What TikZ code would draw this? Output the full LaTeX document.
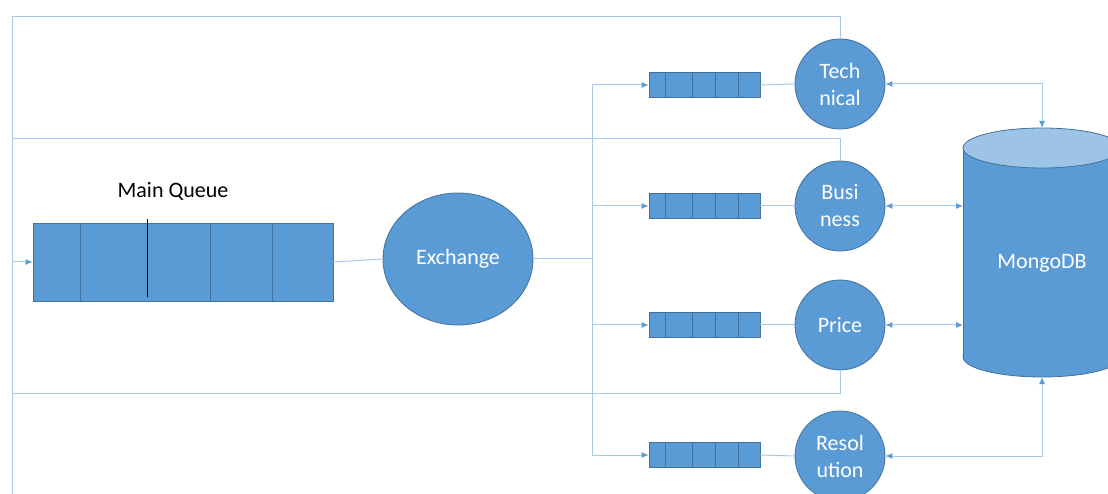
\documentclass[tikz,border=0pt]{standalone}
\usepackage{fontspec}
\setmainfont{Carlito}
\usepackage{tikz}
\usetikzlibrary{arrows.meta}
\usetikzlibrary{shapes.geometric,positioning,calc}
\definecolor{qblue}{HTML}{5B9BD5}
\definecolor{qedge}{HTML}{41719C}
\definecolor{dbcap}{HTML}{9DC3E6}
\definecolor{linkc}{HTML}{A9C9EB}

\begin{document}
\begin{tikzpicture}[x=1pt,y=1pt,
		font=\fontsize{22}{27}\selectfont,
		queue/.style={draw=qedge,fill=qblue,line width=0.8pt,inner sep=0pt},
		worker/.style={circle,draw=qedge,fill=qblue,line width=0.8pt,minimum size=90pt,inner sep=0pt,text=white,align=center},
		link/.style={draw=linkc,line width=1pt},
		tip/.style={-{Latex[length=7pt,width=6pt,color=qblue]}},
		both/.style={{Latex[length=7pt,width=6pt,color=qblue]}-{Latex[length=7pt,width=6pt,color=qblue]}}]
			\useasboundingbox (0,0) rectangle (1108,493);
			\clip (0,0) rectangle (1108,493);
			\node[queue,minimum width=300pt,minimum height=78pt] (mq) at (183,231) {};
			\foreach \d in {48,178,240} \draw[qedge,line width=0.8pt] ([xshift=\d]mq.south west) -- ([xshift=\d]mq.north west);
			\draw[black,line width=0.6pt] ([xshift=115,yshift=4]mq.south west) -- ([xshift=115,yshift=4]mq.north west);
			\node (mqlabel) at (173,302) {Main Queue};
			\node[ellipse,draw=qedge,fill=qblue,line width=0.8pt,minimum width=150pt,minimum height=132pt,text=white] (ex) at (458,234) {Exchange};
			\node[queue,minimum width=111pt,minimum height=25pt] (tq) at (704.5,408) {};
			\node[queue,minimum width=111pt,minimum height=25pt] (bq) at (704.5,287) {};
			\node[queue,minimum width=111pt,minimum height=25pt] (pq) at (704.5,168) {};
			\node[queue,minimum width=111pt,minimum height=25pt] (rq) at (704.5,38) {};
			\foreach \q in {tq,bq,pq,rq}
				\foreach \d in {17,44,67,90}
					\draw[qedge,line width=0.8pt] ([xshift=\d]\q.south west) -- ([xshift=\d]\q.north west);
			\node[worker] (tc) at (840,409) {Tech\\nical};
			\node[worker] (bc) at (840,287) {Busi\\ness};
			\node[worker] (pc) at (840,168) {Price};
			\node[worker] (rc) at (840,37) {Resol\\ution};
			\draw[qedge,fill=qblue,line width=0.8pt] (1042,136) ellipse [x radius=79pt,y radius=20pt];
			\fill[qblue] (963,136) rectangle (1121,345);
			\draw[qedge,line width=0.8pt] (963,136) -- (963,345) (1121,136) -- (1121,345);
			\draw[qedge,fill=dbcap,line width=0.8pt] (1042,345) ellipse [x radius=79pt,y radius=20pt];
			\node[text=white] (db) at (1042,230) {MongoDB};
			\coordinate (dbtop) at (1042,365);
			\coordinate (dbbot) at (1042,116);
			\coordinate (dbleft) at (963,230);
			\coordinate (split) at (592,234);
			\coordinate (fb) at (12,231);
			\draw[link] (mq.east) -- (ex.west);
			\draw[link] (ex.east) -- (split);
			\draw[link] (split |- tq.west) -- (split |- rq.west);
			\foreach \q in {tq,bq,pq,rq} \draw[link,tip] (split |- \q.west) -- (\q.west);
			\draw[link] (tq.east) -- (tc.west);
			\draw[link] (bq.east) -- (bc.west);
			\draw[link] (pq.east) -- (pc.west);
			\draw[link] (rq.east) -- (rc.west);
			\draw[link] (tc.north) -- ++(0,22) -| (fb);
			\draw[link] (bc.north) -- ++(0,22) -| (fb);
			\draw[link] (pc.south) -- ++(0,-23) -| (fb);
			\draw[link] (rc.south) -- ++(0,-20) -| (fb);
			\draw[link,tip] (fb) -- (mq.west);
			\draw[link,both] (tc.east) -| (dbtop);
			\draw[link,both] (bc.east) -- (bc.east -| dbleft);
			\draw[link,both] (pc.east) -- (pc.east -| dbleft);
			\draw[link,both] (rc.east) -| (dbbot);
		\end{tikzpicture}
\end{document}
